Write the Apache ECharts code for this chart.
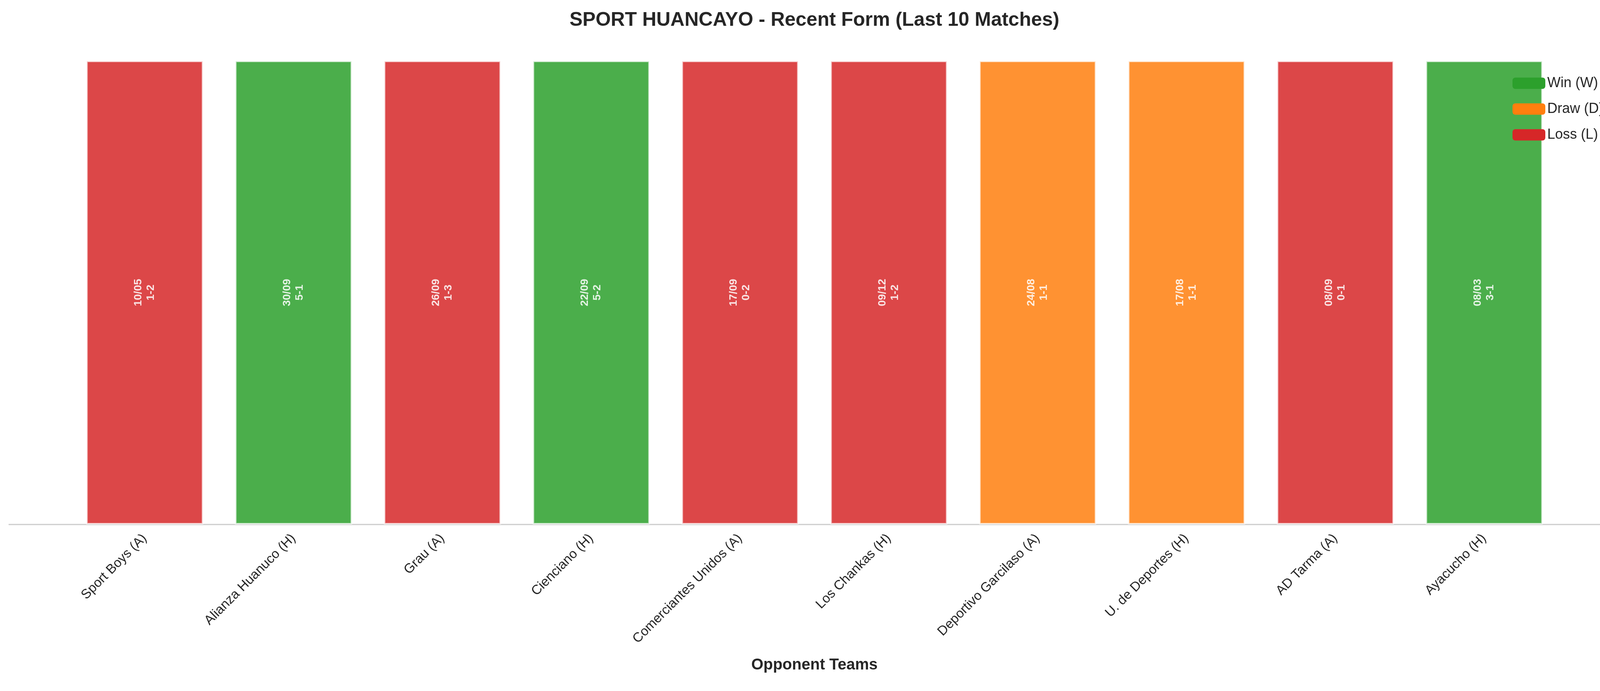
<!DOCTYPE html>
<html><head><meta charset="utf-8">
<script src="https://cdn.jsdelivr.net/npm/echarts@6/dist/echarts.min.js"></script>
<style>html,body{margin:0;padding:0;background:#fff}#c{width:4170px;height:1768px}</style>
</head><body><div id="c"></div>
<script>
const opponents = ['Sport Boys (A)','Alianza Huanuco (H)','Grau (A)','Cienciano (H)','Comerciantes Unidos (A)','Los Chankas (H)','Deportivo Garcilaso (A)','U. de Deportes (H)','AD Tarma (A)','Ayacucho (H)'];
const dates = ['10/05','30/09','26/09','22/09','17/09','09/12','24/08','17/08','08/09','08/03'];
const scores = ['1-2','5-1','1-3','5-2','0-2','1-2','1-1','1-1','0-1','3-1'];
const results = ['L','W','L','W','L','L','D','D','L','W'];

const defs = [
  {key:'W', name:'Win (W)', color:'#2ca02c'},
  {key:'D', name:'Draw (D)', color:'#ff7f0e'},
  {key:'L', name:'Loss (L)', color:'#d62728'}
];
const chart = echarts.init(document.getElementById('c'));
const series = defs.map(d => ({
  name: d.name, type: 'bar', stack: 'form', barWidth: 300,
  itemStyle: {color: d.color, opacity: 0.85, borderColor: 'rgba(255,255,255,0.8)', borderWidth: 4},
  label: {show: true, position: 'inside', rotate: 90, color: '#fff', fontWeight: 'bold',
    fontSize: 28, fontFamily: 'Liberation Sans', lineHeight: 32,
    formatter: p => dates[p.dataIndex] + '\n' + scores[p.dataIndex]},
  data: results.map(r => r === d.key ? 1 : null)
}));
chart.setOption({
  animation: false,
  textStyle: {fontFamily: 'Liberation Sans'},
  title: {text: 'SPORT HUANCAYO - Recent Form (Last 10 Matches)', left: 'center', top: 22,
    textStyle: {fontSize: 50, fontWeight: 'bold', color: '#262626', fontFamily: 'Liberation Sans'}},
  legend: {right: 60, top: 190, orient: 'vertical', itemWidth: 84, itemHeight: 29, itemGap: 30,
    textStyle: {fontSize: 36, color: '#262626'}, data: defs.map(d => ({name: d.name, itemStyle:{opacity:1, borderWidth:0}}))},
  grid: {left: 180, right: 180, top: 155, bottom: 426},
  xAxis: {type: 'category', data: opponents,
    name: 'Opponent Teams', nameLocation: 'middle', nameGap: 340,
    nameTextStyle: {fontSize: 40, fontWeight: 'bold', color: '#262626'},
    axisLine: {show: false}, axisTick: {show: false},
    axisLabel: {rotate: 45, fontSize: 34, color: '#262626', margin: 30, interval: 0}},
  yAxis: {type: 'value', min: 0, max: 1, show: false},
  graphic: [{type: 'line', shape: {x1: 22, y1: 1342, x2: 4150, y2: 1342},
    style: {stroke: '#cccccc', lineWidth: 3}}],
  series
});
</script></body></html>
